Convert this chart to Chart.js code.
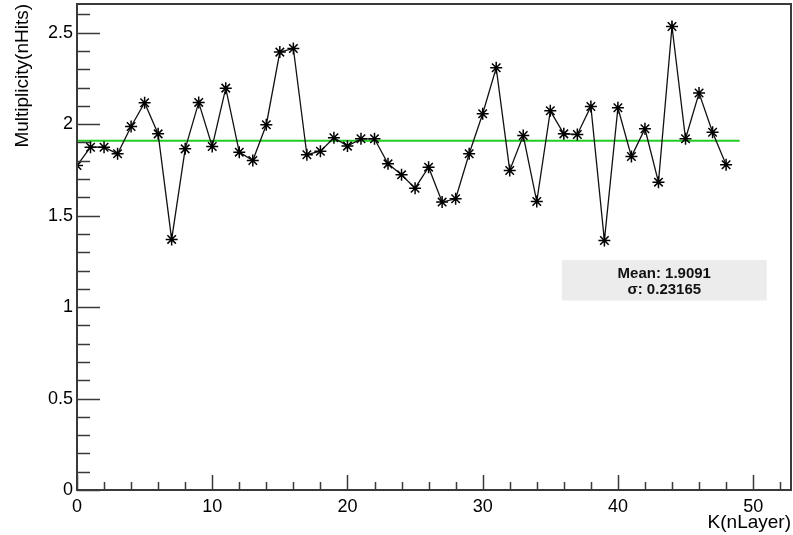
<!DOCTYPE html>
<html>
<head>
<meta charset="utf-8">
<script src="https://cdn.jsdelivr.net/npm/chart.js@4.4.1/dist/chart.umd.min.js"></script>
<style>
    body { margin: 0; background: #fff; }
    #wrap { width: 793px; height: 535px; }
</style>
</head>
<body>
<div id="wrap"><canvas id="multChart" width="793" height="535"></canvas></div>
<script>
// values
const layers = [0, 1, 2, 3, 4, 5, 6, 7, 8, 9, 10, 11, 12, 13, 14, 15, 16, 17, 18, 19, 20, 21, 22, 23, 24,
    25, 26, 27, 28, 29, 30, 31, 32, 33, 34, 35, 36, 37, 38, 39, 40, 41, 42, 43, 44, 45, 46, 47, 48];
const multiplicity = [1.774, 1.874, 1.874, 1.838, 1.987, 2.117, 1.947, 1.370, 1.865, 2.119,
    1.878, 2.197, 1.847, 1.801, 1.997, 2.394, 2.414, 1.833, 1.852, 1.926,
    1.880, 1.920, 1.920, 1.783, 1.723, 1.650, 1.765, 1.574, 1.592, 1.838,
    2.057, 2.308, 1.747, 1.938, 1.577, 2.073, 1.947, 1.944, 2.097, 1.364,
    2.090, 1.823, 1.975, 1.683, 2.534, 1.920, 2.170, 1.956, 1.778];
const meanValue = 1.9091;
const sigmaValue = 0.23165;
const meanRange = [0, 49];
const statsLines = ['Mean: ' + meanValue.toFixed(4), '\u03c3: ' + sigmaValue.toFixed(5)];

const xRange = [0, 52.8];
const yRange = [0, 2.657];
const xMajor = 10, xMinor = 2;
const yMajor = 0.5, yMinor = 0.1;

const FONT = '"Liberation Sans", Arial, Helvetica, sans-serif';
const AXIS = '#3a3a3a';

// no extra room for half labels, the frame fills the canvas like in ROOT
const noPad = s => { s.paddingTop = 0; s.paddingBottom = 0; s.paddingLeft = 0; s.paddingRight = 0; };

// ROOT style frame with ticks drawn inward
const rootFrame = {
    id: 'rootFrame',
    afterDraw(chart) {
        const { ctx, chartArea: a, scales: { x, y } } = chart;
        ctx.save();
        ctx.strokeStyle = AXIS;
        ctx.lineWidth = 1.5;
        ctx.beginPath();
        for (let v = xRange[0]; v <= xRange[1] + 1e-9; v += xMinor) {
            const px = Math.round(x.getPixelForValue(v)) + 0.5;
            const len = Math.abs(v % xMajor) < 1e-6 ? 15 : 8;
            ctx.moveTo(px, a.bottom);
            ctx.lineTo(px, a.bottom - len);
        }
        for (let v = yRange[0]; v <= yRange[1] + 1e-9; v += yMinor) {
            const py = Math.round(y.getPixelForValue(v)) + 0.5;
            const r = Math.abs(v / yMajor - Math.round(v / yMajor)) < 1e-6;
            ctx.moveTo(a.left, py);
            ctx.lineTo(a.left + (r ? 23 : 13), py);
        }
        ctx.stroke();
        ctx.lineWidth = 2;
        ctx.strokeRect(a.left, a.top, a.right - a.left, a.bottom - a.top);

        // stats box
        const w = a.right - a.left, h = a.bottom - a.top;
        const bx = a.left + w * 0.679, by = a.top + h * 0.527;
        const bw = w * 0.287, bh = h * 0.083;
        ctx.fillStyle = '#ececec';
        ctx.fillRect(bx, by, bw, bh);
        ctx.fillStyle = '#111';
        ctx.font = 'bold 15px ' + FONT;
        ctx.textAlign = 'center';
        ctx.textBaseline = 'middle';
        ctx.fillText(statsLines[0], bx + bw / 2, by + bh * 0.34);
        ctx.fillText(statsLines[1], bx + bw / 2, by + bh * 0.74);
        ctx.restore();
    }
};

new Chart(document.getElementById('multChart'), {
    type: 'scatter',
    data: {
        datasets: [{
            label: 'mean',
            data: meanRange.map(k => ({ x: k, y: meanValue })),
            showLine: true,
            borderColor: '#22cc22',
            borderWidth: 2,
            pointRadius: 0,
            order: 2
        }, {
            label: 'multiplicity',
            data: layers.map((k, i) => ({ x: k, y: multiplicity[i] })),
            showLine: true,
            borderColor: '#111',
            borderWidth: 1.3,
            pointStyle: 'star',
            pointRadius: 6,
            pointBorderWidth: 1.5,
            pointBorderColor: '#000',
            pointBackgroundColor: '#000',
            order: 1
        }]
    },
    options: {
        responsive: false,
        animation: false,
        layout: { autoPadding: false, padding: { top: 4, right: 2, left: 0, bottom: 0 } },
        plugins: { legend: { display: false }, tooltip: { enabled: false } },
        scales: {
            x: {
                type: 'linear',
                min: xRange[0], max: xRange[1],
                grid: { display: false, drawTicks: false },
                border: { display: false },
                ticks: { stepSize: xMajor, includeBounds: false, padding: 6, color: '#000', font: { family: FONT, size: 18 }, maxRotation: 0 },
                title: { display: true, text: 'K(nLayer)', align: 'end', color: '#000', font: { family: FONT, size: 19 }, padding: { top: 0, bottom: 1 } },
                afterFit: s => { s.height = 45; noPad(s); }
            },
            y: {
                type: 'linear',
                min: yRange[0], max: yRange[1],
                grid: { display: false, drawTicks: false },
                border: { display: false },
                ticks: {
                    stepSize: yMajor, includeBounds: false, padding: 4, color: '#000', font: { family: FONT, size: 18 },
                    callback: v => String(Math.round(v * 10) / 10)
                },
                title: { display: true, text: 'Multiplicity(nHits)', align: 'end', color: '#000', font: { family: FONT, size: 19 }, padding: { top: 11, bottom: 0 } },
                afterFit: s => { s.width = 77; noPad(s); }
            }
        }
    },
    plugins: [rootFrame]
});
</script>
</body>
</html>
